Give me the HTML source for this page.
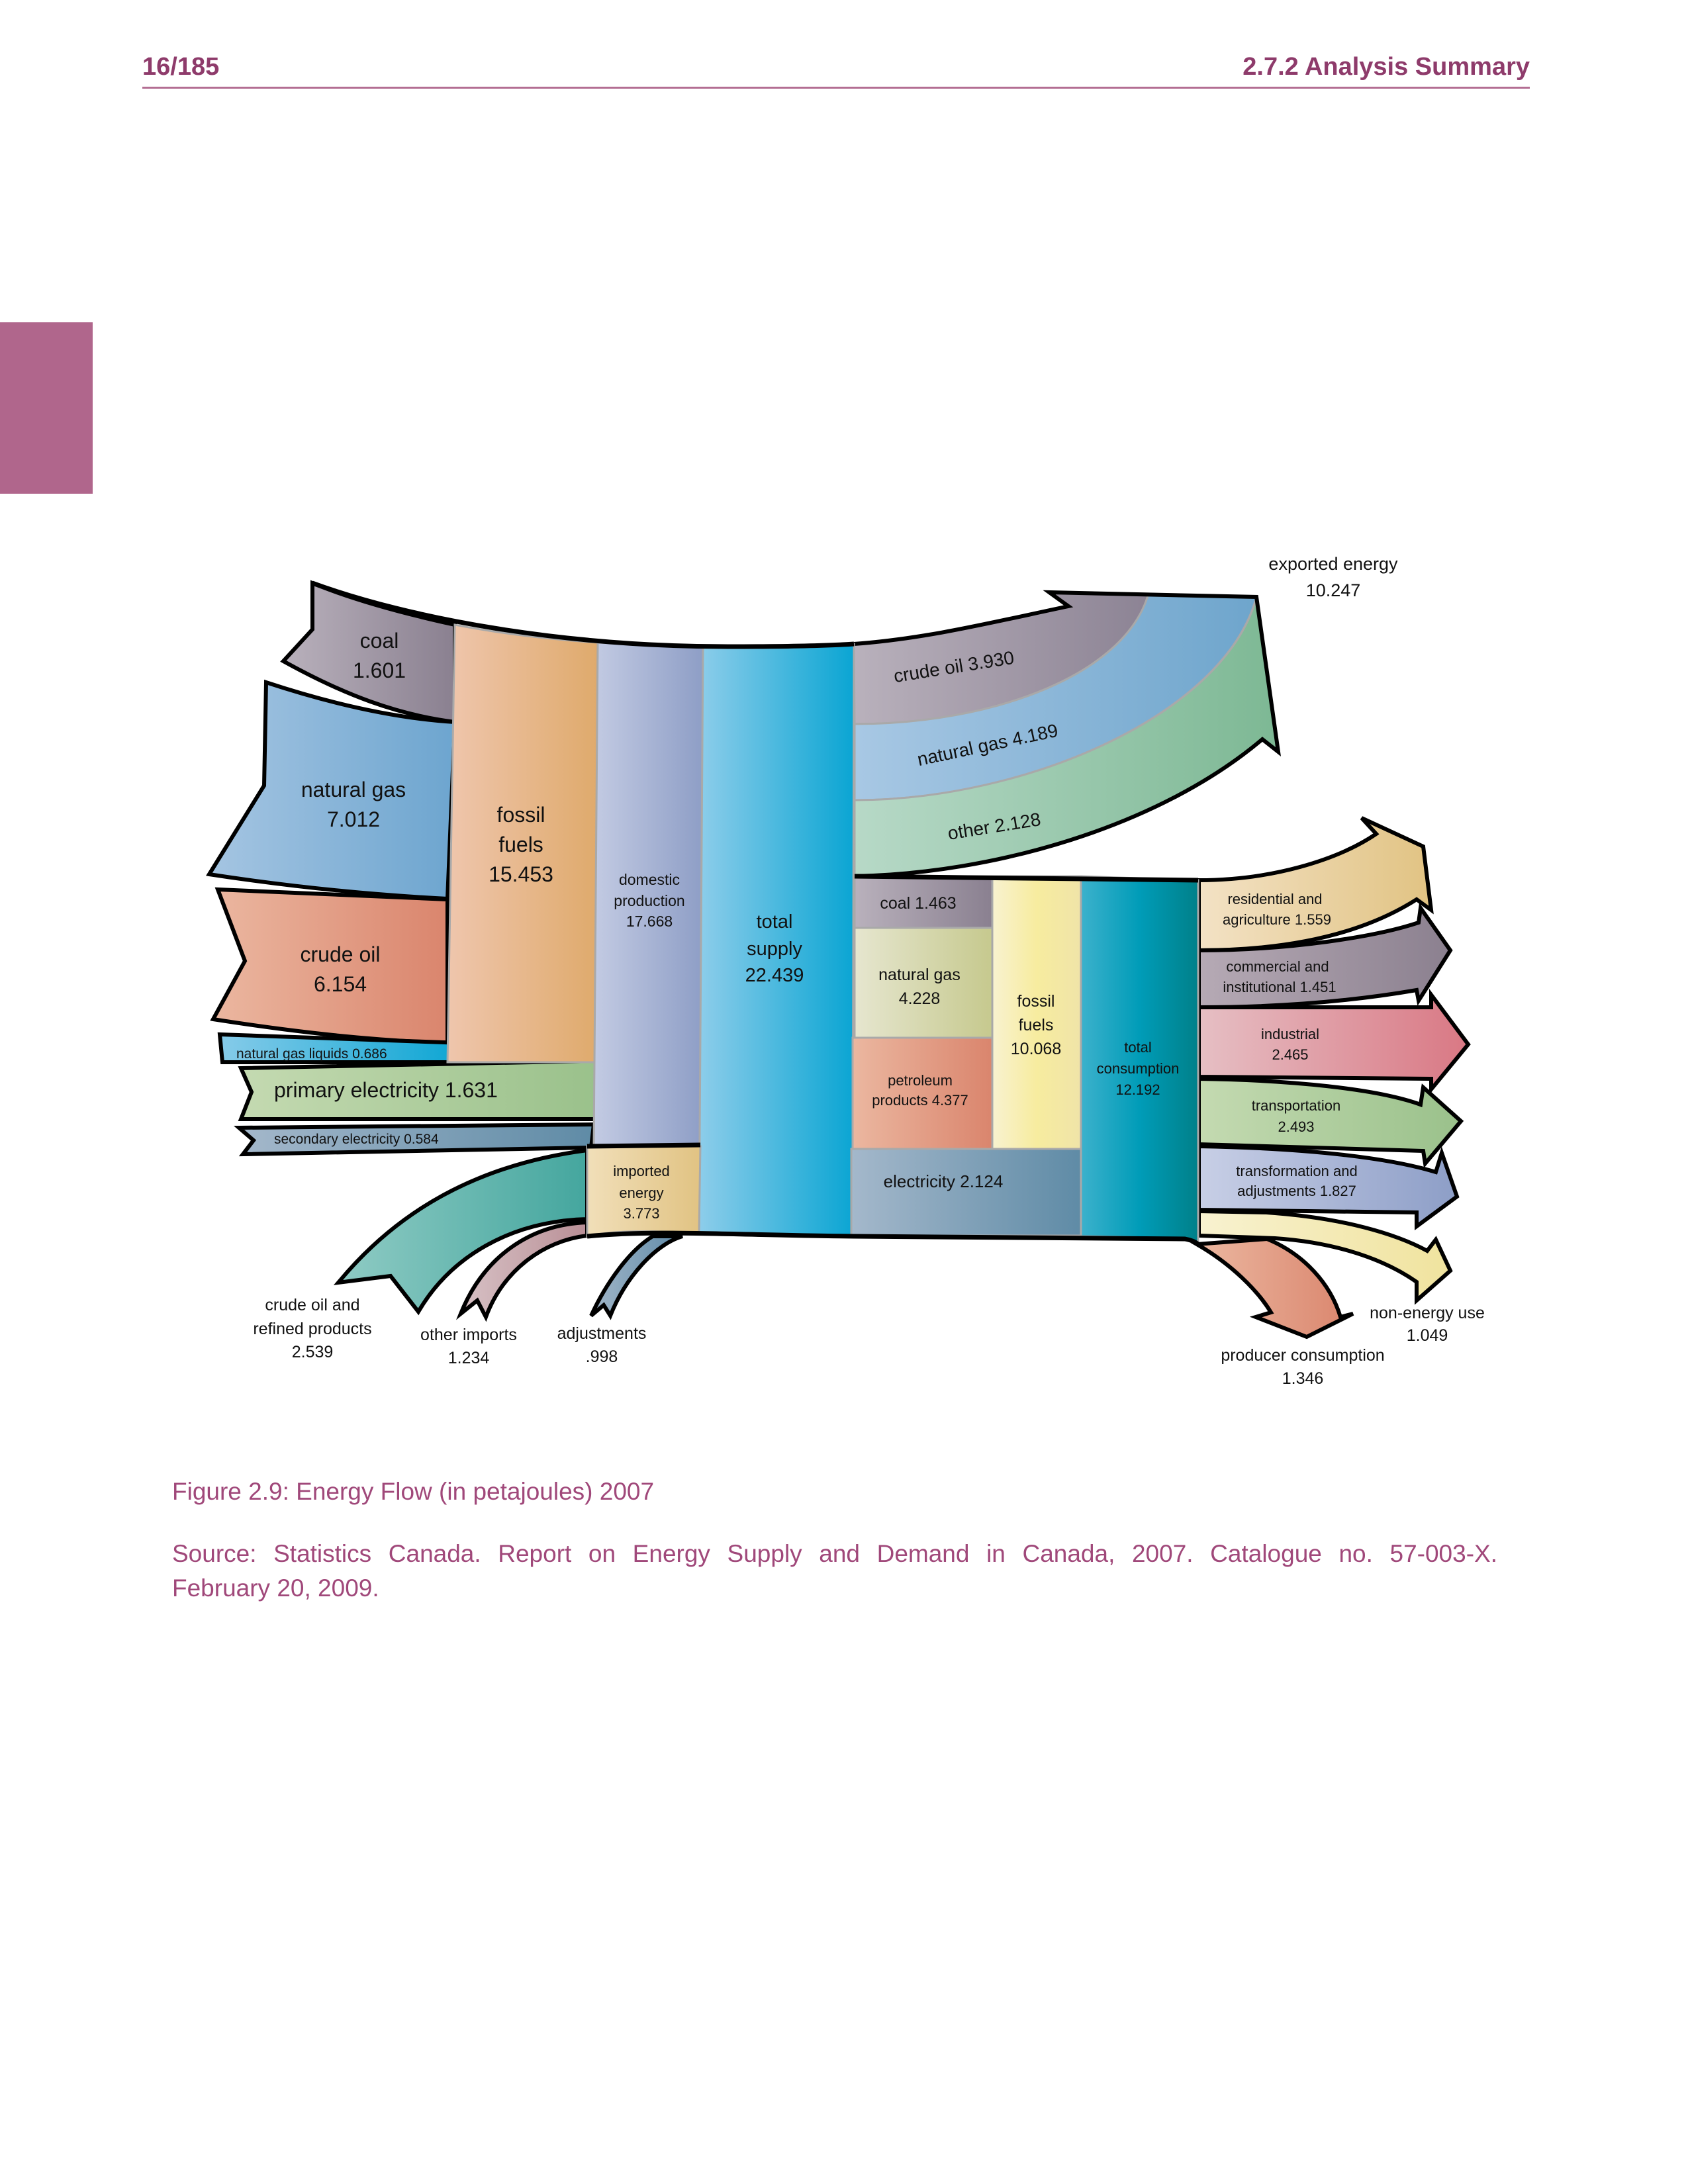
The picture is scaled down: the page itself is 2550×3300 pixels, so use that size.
<!DOCTYPE html>
<html><head><meta charset="utf-8"><style>
html,body{margin:0;padding:0;background:#fff;}
body{width:2550px;height:3300px;position:relative;overflow:hidden;font-family:"Liberation Sans","DejaVu Sans",sans-serif;}
.hdr{position:absolute;top:80px;font-weight:bold;font-size:38px;color:#8e3b6b;}
.cap{position:absolute;left:260px;width:2002px;color:#a0487a;font-size:37px;line-height:52px;white-space:nowrap;}
</style></head><body>
<div class="hdr" style="left:215px">16/185</div>
<div class="hdr" style="right:239px">2.7.2 Analysis Summary</div>
<div style="position:absolute;left:215px;top:131px;width:2096px;height:3px;background:#b36e93"></div>
<div style="position:absolute;left:0;top:487px;width:140px;height:259px;background:#b0668c"></div>
<div class="cap" style="top:2228px">Figure 2.9: Energy Flow (in petajoules) 2007</div>
<div class="cap" style="top:2322px;text-align:justify;text-align-last:justify;white-space:normal">Source: Statistics Canada. Report on Energy Supply and Demand in Canada, 2007. Catalogue no. 57-003-X.</div>
<div class="cap" style="top:2374px">February 20, 2009.</div>

<svg width="2550" height="3300" style="position:absolute;left:0;top:0" xmlns="http://www.w3.org/2000/svg">
<defs>
<linearGradient id="gCoal"><stop offset="0" stop-color="#b9b1bc"/><stop offset="1" stop-color="#8a8090"/></linearGradient>
<linearGradient id="gGas"><stop offset="0" stop-color="#a5c5e2"/><stop offset="1" stop-color="#6da5cf"/></linearGradient>
<linearGradient id="gOil"><stop offset="0" stop-color="#ebb7a0"/><stop offset="1" stop-color="#da856d"/></linearGradient>
<linearGradient id="gFos"><stop offset="0" stop-color="#efc6ad"/><stop offset="1" stop-color="#dfaa6c"/></linearGradient>
<linearGradient id="gDom"><stop offset="0" stop-color="#c3cbe3"/><stop offset="1" stop-color="#8e9ec6"/></linearGradient>
<linearGradient id="gTot"><stop offset="0" stop-color="#8dcdea"/><stop offset="1" stop-color="#0aa5d3"/></linearGradient>
<linearGradient id="gNgl"><stop offset="0" stop-color="#86cbe9"/><stop offset="1" stop-color="#0aa5d3"/></linearGradient>
<linearGradient id="gPri"><stop offset="0" stop-color="#c4dab1"/><stop offset="1" stop-color="#9ac18b"/></linearGradient>
<linearGradient id="gSec"><stop offset="0" stop-color="#a4b8cb"/><stop offset="1" stop-color="#5f8ba6"/></linearGradient>
<linearGradient id="gImp"><stop offset="0" stop-color="#f1dfb9"/><stop offset="1" stop-color="#e1c383"/></linearGradient>
<linearGradient id="gCri" x1="1" x2="0"><stop offset="0" stop-color="#44a69e"/><stop offset="1" stop-color="#8fcbc4"/></linearGradient>
<linearGradient id="gOth" x1="1" x2="0"><stop offset="0" stop-color="#b98f96"/><stop offset="1" stop-color="#d7c1c5"/></linearGradient>
<linearGradient id="gAdj" x1="1" x2="0"><stop offset="0" stop-color="#5f8aa8"/><stop offset="1" stop-color="#a1b6c8"/></linearGradient>
<linearGradient id="gEOil"><stop offset="0" stop-color="#b9b1bc"/><stop offset="1" stop-color="#8c8394"/></linearGradient>
<linearGradient id="gEGas"><stop offset="0" stop-color="#a8c8e4"/><stop offset="1" stop-color="#6ea5cc"/></linearGradient>
<linearGradient id="gEOth"><stop offset="0" stop-color="#b7d9c7"/><stop offset="1" stop-color="#7db894"/></linearGradient>
<linearGradient id="gRGas"><stop offset="0" stop-color="#e6e6cf"/><stop offset="1" stop-color="#c6c98e"/></linearGradient>
<linearGradient id="gYel"><stop offset="0" stop-color="#f8f2d0"/><stop offset="0.5" stop-color="#f7ec9f"/><stop offset="1" stop-color="#f0e4a8"/></linearGradient>
<linearGradient id="gTC"><stop offset="0" stop-color="#3cb1cc"/><stop offset="0.5" stop-color="#009cb8"/><stop offset="1" stop-color="#008089"/></linearGradient>
<linearGradient id="gRes"><stop offset="0" stop-color="#f3e2c5"/><stop offset="1" stop-color="#e1c383"/></linearGradient>
<linearGradient id="gCom"><stop offset="0" stop-color="#b6aab5"/><stop offset="1" stop-color="#8b808f"/></linearGradient>
<linearGradient id="gInd"><stop offset="0" stop-color="#e6bfc4"/><stop offset="1" stop-color="#d97884"/></linearGradient>
<linearGradient id="gTra"><stop offset="0" stop-color="#c8cfe6"/><stop offset="1" stop-color="#8d9ec7"/></linearGradient>
<linearGradient id="gNon"><stop offset="0" stop-color="#f8f2d0"/><stop offset="1" stop-color="#f0e39e"/></linearGradient>
</defs>

<g stroke="#000" stroke-width="6" stroke-linejoin="miter">
<path d="M472,881 L472,951 L428,999 C520,1050 600,1080 687,1091 L687,944 C600,925 530,905 472,881 Z" fill="url(#gCoal)"/>
<path d="M402,1031 L399,1187 L316,1321 C440,1340 560,1352 676,1358 L687,1091 C590,1085 490,1060 402,1031 Z" fill="url(#gGas)"/>
<path d="M329,1344 L370,1452 L322,1540 C450,1560 560,1572 676,1576 L676,1359 Z" fill="url(#gOil)"/>
<path d="M332,1563 L336,1605 L700,1605 L700,1576 Z" fill="url(#gNgl)"/>
<path d="M364,1614 L900,1603 L900,1691 L364,1691 L380,1650 Z" fill="url(#gPri)"/>
<path d="M361,1704 L897,1699 L893,1734 L367,1744 L383,1723 Z" fill="url(#gSec)"/>
<path d="M887,1738 C720,1760 600,1830 511,1938 L590,1928 L632,1982 C680,1900 770,1845 887,1842 Z" fill="url(#gCri)"/>
<path d="M887,1847 C800,1850 730,1900 696,1985 L721,1965 L734,1990 C760,1920 820,1875 887,1867 Z" fill="url(#gOth)"/>
<path d="M986,1868 C950,1890 915,1940 893,1988 L912,1972 L922,1988 C945,1930 990,1880 1031,1868 Z" fill="url(#gAdj)"/>
<path d="M1811,1330 C1920,1330 2020,1300 2079,1260 L2057,1236 L2150,1279 L2162,1375 L2140,1359 C2060,1410 1950,1436 1811,1436 Z" fill="url(#gRes)"/>
<path d="M1811,1436 C1950,1436 2080,1415 2143,1394 L2146,1372 L2191,1436 L2143,1512 L2140,1496 C2030,1515 1920,1522 1811,1522 Z" fill="url(#gCom)"/>
<path d="M1811,1522 L2162,1522 L2162,1503 L2218,1578 L2162,1646 L2162,1630 L1811,1627 Z" fill="url(#gInd)"/>
<path d="M1811,1630 C1950,1632 2080,1645 2146,1669 L2150,1643 L2207,1694 L2153,1758 L2150,1739 L1811,1729 Z" fill="url(#gPri)"/>
<path d="M1811,1732 C1980,1735 2100,1750 2169,1771 L2178,1742 L2201,1808 L2140,1853 L2140,1832 L1811,1828 Z" fill="url(#gTra)"/>
<path d="M1811,1830 L1913,1832 C2030,1840 2110,1865 2156,1890 L2169,1873 L2191,1920 L2140,1965 L2140,1937 C2080,1895 2000,1876 1926,1871 L1811,1867 Z" fill="url(#gNon)"/>
<path d="M1808,1880 C1860,1910 1900,1950 1920,1983 L1897,1990 L1974,2020 L2044,1985 L2025,1990 C2010,1940 1970,1895 1914,1872 Z" fill="url(#gOil)"/>
</g>

<g stroke="#a9a9a9" stroke-width="3">
<path d="M1290,973 C1400,965 1500,940 1614,916 L1585,895 L1735,897 C1700,1020 1500,1094 1291,1094 Z" fill="url(#gEOil)"/>
<path d="M1291,1094 C1500,1094 1700,1020 1735,897 L1898,902 C1850,1080 1550,1209 1291,1209 Z" fill="url(#gEGas)"/>
<path d="M1291,1209 C1550,1209 1850,1080 1898,903 L1931,1136 L1907,1117 C1750,1250 1500,1320 1291,1324 Z" fill="url(#gEOth)"/>
</g>
<path d="M1290,973 C1400,965 1500,940 1614,916 L1585,895 L1898,902 L1931,1136 L1907,1117 C1750,1250 1500,1320 1291,1324" fill="none" stroke="#000" stroke-width="6"/>

<g stroke="#a9a9a9" stroke-width="3">
<path d="M687,944 C760,958 830,966 903,971 L900,1605 L676,1605 Z" fill="url(#gFos)"/>
<path d="M903,971 L1062,977 L1060,1732 L897,1732 Z" fill="url(#gDom)"/>
<path d="M1062,977 L1290,973 L1288,1868 L1056,1863 Z" fill="url(#gTot)"/>
<path d="M887,1732 L1058,1732 L1056,1863 C990,1860 930,1858 887,1868 Z" fill="url(#gImp)"/>
<rect x="1291" y="1324" width="208" height="78" fill="url(#gCoal)"/>
<rect x="1291" y="1402" width="208" height="166" fill="url(#gRGas)"/>
<rect x="1288" y="1568" width="211" height="168" fill="url(#gOil)"/>
<rect x="1499" y="1324" width="134" height="412" fill="url(#gYel)"/>
<rect x="1286" y="1736" width="347" height="131" fill="url(#gSec)"/>
<path d="M1633,1324 L1810,1330 L1810,1880 C1800,1872 1790,1870 1633,1868 Z" fill="url(#gTC)"/>
</g>
<g fill="none" stroke="#000" stroke-width="7">
<path d="M472,881 C620,935 850,977 1100,977 C1200,977 1260,975 1290,973"/>
<path d="M1291,1324 L1810,1330"/>
<path d="M887,1868 C990,1858 1100,1866 1290,1868 L1790,1872 C1800,1874 1806,1876 1812,1882"/>
<path d="M887,1732 L1058,1730"/>
</g>

<g font-family="Liberation Sans, DejaVu Sans, sans-serif" fill="#111" text-anchor="middle">
<text x="573" y="979" font-size="32">coal</text>
<text x="573" y="1024" font-size="32">1.601</text>
<text x="534" y="1204" font-size="32">natural gas</text>
<text x="534" y="1249" font-size="32">7.012</text>
<text x="514" y="1453" font-size="32">crude oil</text>
<text x="514" y="1498" font-size="32">6.154</text>
<text x="787" y="1242" font-size="32">fossil</text>
<text x="787" y="1287" font-size="32">fuels</text>
<text x="787" y="1332" font-size="32">15.453</text>
<text x="981" y="1337" font-size="23">domestic</text>
<text x="981" y="1369" font-size="23">production</text>
<text x="981" y="1400" font-size="23">17.668</text>
<text x="1170" y="1402" font-size="29">total</text>
<text x="1170" y="1443" font-size="29">supply</text>
<text x="1170" y="1483" font-size="29">22.439</text>
<text x="357" y="1599" font-size="21" text-anchor="start">natural gas liquids 0.686</text>
<text x="414" y="1658" font-size="32" text-anchor="start">primary electricity 1.631</text>
<text x="414" y="1728" font-size="21" text-anchor="start">secondary electricity 0.584</text>
<text x="969" y="1777" font-size="22">imported</text>
<text x="969" y="1810" font-size="22">energy</text>
<text x="969" y="1841" font-size="22">3.773</text>
<text x="472" y="1980" font-size="25">crude oil and</text>
<text x="472" y="2016" font-size="25">refined products</text>
<text x="472" y="2051" font-size="25">2.539</text>
<text x="708" y="2025" font-size="25">other imports</text>
<text x="708" y="2060" font-size="25">1.234</text>
<text x="909" y="2023" font-size="25">adjustments</text>
<text x="909" y="2058" font-size="25">.998</text>
<text x="2014" y="861" font-size="27">exported energy</text>
<text x="2014" y="901" font-size="27">10.247</text>
<text x="1441" y="1017" font-size="28" transform="rotate(-9 1441 1008)">crude oil 3.930</text>
<text x="1492" y="1135" font-size="28" transform="rotate(-12 1492 1126)">natural gas 4.189</text>
<text x="1502" y="1258" font-size="28" transform="rotate(-9 1502 1249)">other 2.128</text>
<text x="1387" y="1373" font-size="25">coal 1.463</text>
<text x="1389" y="1481" font-size="25">natural gas</text>
<text x="1389" y="1517" font-size="25">4.228</text>
<text x="1390" y="1640" font-size="22">petroleum</text>
<text x="1390" y="1670" font-size="22">products 4.377</text>
<text x="1565" y="1521" font-size="25">fossil</text>
<text x="1565" y="1557" font-size="25">fuels</text>
<text x="1565" y="1593" font-size="25">10.068</text>
<text x="1719" y="1590" font-size="22">total</text>
<text x="1719" y="1622" font-size="22">consumption</text>
<text x="1719" y="1654" font-size="22">12.192</text>
<text x="1425" y="1794" font-size="26">electricity 2.124</text>
<text x="1926" y="1366" font-size="22">residential and</text>
<text x="1929" y="1397" font-size="22">agriculture 1.559</text>
<text x="1930" y="1468" font-size="22">commercial and</text>
<text x="1933" y="1499" font-size="22">institutional 1.451</text>
<text x="1949" y="1570" font-size="22">industrial</text>
<text x="1949" y="1601" font-size="22">2.465</text>
<text x="1958" y="1678" font-size="22">transportation</text>
<text x="1958" y="1710" font-size="22">2.493</text>
<text x="1959" y="1777" font-size="22">transformation and</text>
<text x="1959" y="1807" font-size="22">adjustments 1.827</text>
<text x="1968" y="2056" font-size="25">producer consumption</text>
<text x="1968" y="2091" font-size="25">1.346</text>
<text x="2156" y="1992" font-size="25">non-energy use</text>
<text x="2156" y="2026" font-size="25">1.049</text>
</g>
</svg>
</body></html>
